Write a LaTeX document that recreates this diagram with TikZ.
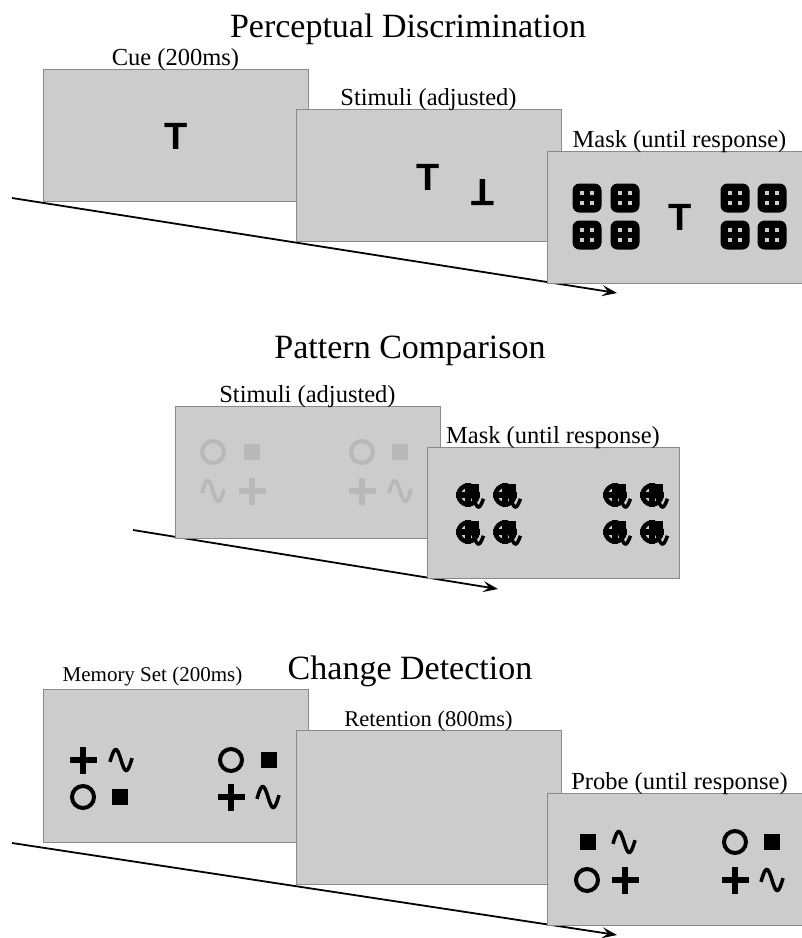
\documentclass[tikz,border=0pt]{standalone}
\usepackage{fontspec}
\setmainfont{Liberation Serif}
\newfontfamily\stimfont{Liberation Sans}
\usetikzlibrary{arrows.meta, positioning}

\definecolor{screengray}{HTML}{CCCCCC}
\definecolor{framegray}{HTML}{8A8A8A}
\definecolor{faintgray}{HTML}{B8B8B8}

\tikzset{
  screen/.style={draw=framegray, line width=1pt, fill=screengray,
    minimum width=265pt, minimum height=132pt, inner sep=0pt},
  caption/.style={inner sep=0pt, font=\fontsize{24.5}{28}\selectfont},
  heading/.style={inner sep=0pt, anchor=base, font=\fontsize{34}{40}\selectfont},
  timeline/.style={line width=1.8pt, -{Stealth[length=15pt,width=11pt,inset=6pt]}},
  letter/.style={inner sep=0pt, font=\stimfont\bfseries\fontsize{38}{38}\selectfont},
  % stimulus symbols
  ringsym/.pic={\draw[line width=4pt] (0,0) circle[radius=11pt];},
  boxsym/.pic={\fill (-8,-8) rectangle (8,8);},
  plussym/.pic={\fill (-13.5,-3.3) rectangle (13.5,3.3); \fill (-3.3,-13.5) rectangle (3.3,13.5);},
  wavesym/.pic={\draw[line width=3.5pt] plot[smooth, domain=-10:370, samples=30] ({-10.5+\x*21/360},{-10.5*sin(\x)});},
  % masks
  gridmask/.pic={
    \fill[rounded corners=7pt] (-14.5,-14.5) rectangle (14.5,14.5);
    \foreach \i in {-5,5}{\foreach \j in {-5,5}{\fill[screengray] (\i-1.8,\j-1.8) rectangle ++(3.6,3.6);}}
  },
  blotmask/.pic={
    \draw[line width=4.5pt] (0,0) circle[radius=9.5pt];
    \fill (-12,-3) rectangle (12,3);
    \fill (-3,-12) rectangle (3,12);
    \fill (1,-11) rectangle (11,-1);
    \draw[line width=3.5pt] plot[smooth, domain=100:370, samples=20] ({-3+\x*18/360},{5-7*sin(\x)});
  }
}

\begin{document}
\begin{tikzpicture}[x=1pt, y=-1pt]
\clip (0,0) rectangle (802,938);

% Perceptual Discrimination
\node[heading] (pdTitle) at (408,37) {Perceptual Discrimination};
\coordinate (pdStart) at (12,198);
\coordinate (pdEnd) at (617,293);
\draw[timeline] (pdStart) -- (pdEnd);
\node[screen] (cue) at (175.5,135) {};
\node[screen] (stim) at (428.5,175) {};
\node[screen] (mask) at (679.5,217) {};
\node[caption, above=-2pt of cue] (cueLbl) {Cue (200ms)};
\node[caption, above=-2pt of stim] (stimLbl) {Stimuli (adjusted)};
\node[caption, above=-2pt of mask] (maskLbl) {Mask (until response)};
\node[letter] (cueT) at (176,136) {T};
\node[letter] (stimT) at (428,177) {T};
\node[letter, rotate=180] (stimInvT) at (483,193) {T};
\node[letter] (maskT) at (680,217) {T};
\foreach \px in {587,625,735,772}
  \foreach \py in {198,235}
    \pic at (\px,\py) {gridmask};

% Pattern Comparison
\node[heading] (pcTitle) at (410,358) {Pattern Comparison};
\coordinate (pcStart) at (133,530);
\coordinate (pcEnd) at (498,589);
\draw[timeline] (pcStart) -- (pcEnd);
\node[screen] (pcStim) at (307.5,472) {};
\node[screen, minimum width=252pt, minimum height=131pt] (pcMask) at (553,512.5) {};
\node[caption, above=-2pt of pcStim] (pcStimLbl) {Stimuli (adjusted)};
\node[caption, above=-2pt of pcMask] (pcMaskLbl) {Mask (until response)};
\foreach \sym/\px/\py in {ringsym/213/452, boxsym/252/452, wavesym/213/491, plussym/252/491,
                          ringsym/362/452, boxsym/400/452, plussym/362/491, wavesym/400/491}
  \pic[faintgray] at (\px,\py) {\sym};
\foreach \px in {468,505,615,652}
  \foreach \py in {495,532}
    \pic at (\px,\py) {blotmask};

% Change Detection
\node[heading] (cdTitle) at (410,679) {Change Detection};
\coordinate (cdStart) at (12,843);
\coordinate (cdEnd) at (617,935);
\draw[timeline] (cdStart) -- (cdEnd);
\node[screen, minimum height=153pt] (memory) at (175.5,765.5) {};
\node[screen, minimum height=154pt] (retention) at (428.5,807) {};
\node[screen] (probe) at (679.5,859) {};
\node[caption, font=\fontsize{21}{25}\selectfont, above=2pt of memory.north west, xshift=110pt, anchor=south] (memoryLbl) {Memory Set (200ms)};
\node[caption, font=\fontsize{22.5}{26}\selectfont, above=-2pt of retention] (retentionLbl) {Retention (800ms)};
\node[caption, above=-2pt of probe] (probeLbl) {Probe (until response)};
\foreach \sym/\px/\py in {plussym/83/760, wavesym/121/760, ringsym/83/797, boxsym/120/797,
                          ringsym/231/760, boxsym/269/760, plussym/231/797, wavesym/268/797}
  \pic at (\px,\py) {\sym};
\foreach \sym/\px/\py in {boxsym/588/842, wavesym/624/842, ringsym/587/880, plussym/625/880,
                          ringsym/735/842, boxsym/772/842, plussym/735/880, wavesym/772/880}
  \pic at (\px,\py) {\sym};

\end{tikzpicture}
\end{document}
